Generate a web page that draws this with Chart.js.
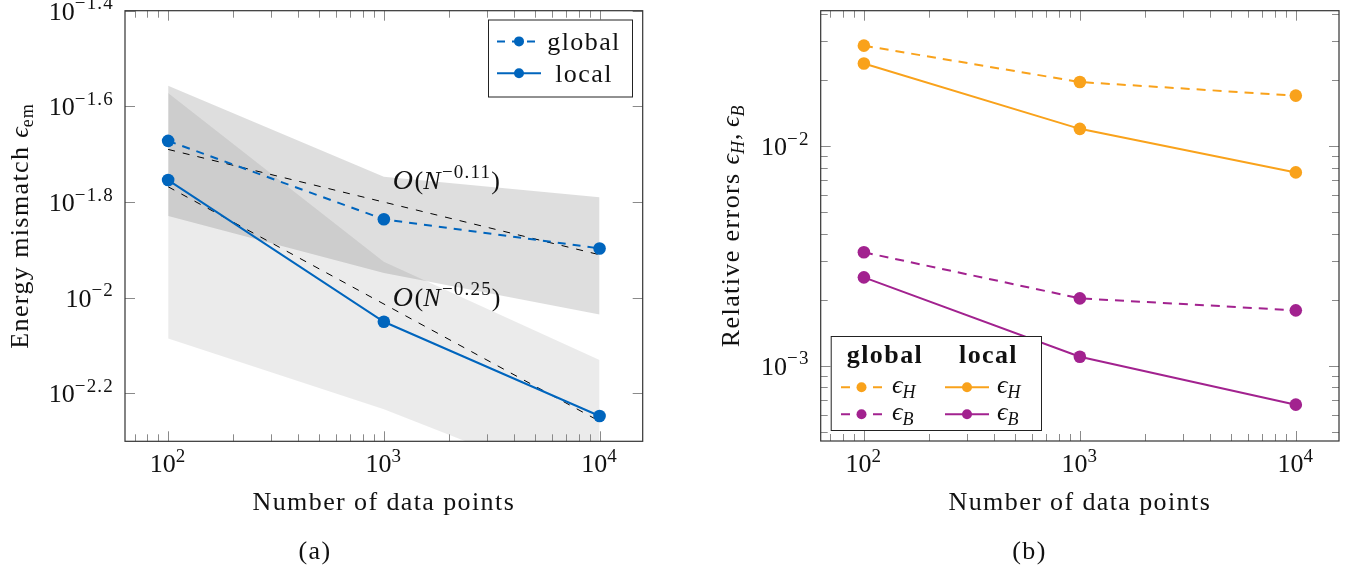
<!DOCTYPE html>
<html>
<head>
<meta charset="utf-8">
<script src="https://cdn.jsdelivr.net/npm/chart.js@4.4.1/dist/chart.umd.min.js"></script>
<style>
  html, body { margin: 0; padding: 0; background: #fff; }
  #wrap { position: relative; width: 1359px; height: 574px; }
  #wrap canvas { position: absolute; left: 0; top: 0; }
</style>
</head>
<body>
<div id="wrap">
  <canvas id="chartA" width="1359" height="574"></canvas>
  <canvas id="chartB" width="1359" height="574"></canvas>
</div>
<script>
// number of data points (x) for every series
const nPoints = [100, 1000, 10000];

// (a) energy mismatch
const emGlobal = [0.02128, 0.01459, 0.01268];
const emLocal = [0.01762, 0.00891, 0.00566];
const bandGlobalHi = [0.02773, 0.01791, 0.01622];
const bandGlobalLo = [0.01483, 0.01127, 0.00923];
const bandLocalHi = [0.02679, 0.01189, 0.00741];
const bandLocalLo = [0.00822, 0.00585, 0.00389];
const fitN = [100, 10000];
const fitSlow = [0.02042, 0.0123];   // O(N^-0.11)
const fitFast = [0.01706, 0.00552];  // O(N^-0.25)

// (b) relative errors
const errHGlobal = [0.0287, 0.0196, 0.0170];
const errHLocal = [0.0238, 0.0120, 0.0076];
const errBGlobal = [0.00329, 0.00203, 0.00179];
const errBLocal = [0.00253, 0.00110, 0.000666];

// ticks
const xTicks = [100, 1000, 10000];
const xTickExp = ['2', '3', '4'];
const emTickPow = [-2.2, -2.0, -1.8, -1.6, -1.4];
const errTickPow = [-3, -2];
const mantissas = [2, 3, 4, 5, 6, 7, 8, 9];

const xMin = Math.pow(10, 1.8), xMax = Math.pow(10, 4.2);
const xMinor = [10, 100, 1000, 10000].flatMap(d => mantissas.map(m => m * d)).filter(v => v > xMin && v < xMax);
const errMin = Math.pow(10, -3.342), errMax = Math.pow(10, -1.383);
const errMinor = [1e-4, 1e-3, 1e-2].flatMap(d => mantissas.map(m => m * d)).filter(v => v > errMin && v < errMax);

const blue = '#0065BD', orange = '#F9A21B', purple = '#A2228F';
const FONT = "'Liberation Serif', 'DejaVu Serif', serif";

const xy = (xs, ys) => xs.map((x, i) => ({ x: x, y: ys[i] }));
const expText = p => String(p).replace('-', '\u2212');

function setFont(ctx, r) {
    ctx.font = (r[2] ? r[2] + ' ' : '') + r[1] + 'px ' + FONT;
    // Times is narrower than Computer Modern: open up words and exponents a little
    let sp = 0;
    if (/[A-Za-z]/.test(r[0])) sp = r[1] * 0.055;
    else if (r[1] < 22) sp = 1.2;
    ctx.letterSpacing = sp.toFixed(1) + 'px';
}

// draws a list of [text, size, style, dy] pieces on one baseline
function drawRuns(ctx, runs, x, y, align) {
    let w = 0;
    const widths = runs.map(r => {
        setFont(ctx, r);
        const m = ctx.measureText(r[0]).width;
        w += m;
        return m;
    });
    let cx = align === 'center' ? x - w / 2 : (align === 'right' ? x - w : x);
    ctx.textAlign = 'left';
    ctx.textBaseline = 'alphabetic';
    runs.forEach((r, i) => {
        setFont(ctx, r);
        ctx.fillText(r[0], cx, y + (r[3] || 0));
        cx += widths[i];
    });
    ctx.letterSpacing = '0px';
}

const pow10 = e => [['10', 26], [e, 19, '', -10.5]];

function line(ctx, x0, y0, x1, y1) {
    ctx.beginPath();
    ctx.moveTo(x0, y0);
    ctx.lineTo(x1, y1);
    ctx.stroke();
}

// box, inward ticks, tick labels, titles, notes and legend (pgfplots look)
const axesFrame = {
    id: 'axesFrame',
    afterDatasetsDraw(chart, args, o) {
        const ctx = chart.ctx, a = chart.chartArea;
        const xs = chart.scales.x, ys = chart.scales.y;
        ctx.save();

        ctx.strokeStyle = '#8a8a8a';
        ctx.lineWidth = 1;
        const vTick = (v, len) => {
            const px = Math.round(xs.getPixelForValue(v)) + 0.5;
            line(ctx, px, a.bottom, px, a.bottom - len);
            line(ctx, px, a.top, px, a.top + len);
        };
        const hTick = (v, len) => {
            const py = Math.round(ys.getPixelForValue(v)) + 0.5;
            line(ctx, a.left, py, a.left + len, py);
            line(ctx, a.right, py, a.right - len, py);
        };
        o.xMinor.forEach(v => vTick(v, 7));
        o.xMajor.forEach(v => vTick(v, 10));
        o.yMinor.forEach(v => hTick(v, 7));
        o.yMajor.forEach(v => hTick(v, 10));

        ctx.strokeStyle = '#333';
        ctx.lineWidth = 1.2;
        ctx.strokeRect(a.left, a.top, a.right - a.left, a.bottom - a.top);

        ctx.fillStyle = '#111';
        o.xMajor.forEach((v, i) => drawRuns(ctx, pow10(o.xExp[i]), xs.getPixelForValue(v), a.bottom + 31, 'center'));
        o.yMajor.forEach((v, i) => drawRuns(ctx, pow10(o.yExp[i]), a.left - 11, ys.getPixelForValue(v) + 9, 'right'));

        drawRuns(ctx, [['Number of data points', 26]], (a.left + a.right) / 2, a.bottom + 69, 'center');
        ctx.save();
        ctx.translate(o.yTitleX, (a.top + a.bottom) / 2);
        ctx.rotate(-Math.PI / 2);
        drawRuns(ctx, o.yTitle, 0, 0, 'center');
        ctx.restore();
        drawRuns(ctx, [[o.caption, 26]], o.captionX, 559, 'center');

        (o.notes || []).forEach(n => {
            drawRuns(ctx, n.runs, xs.getPixelForValue(n.x), ys.getPixelForValue(n.y) + 9, 'left');
        });

        const lg = o.legend;
        ctx.fillStyle = '#fff';
        ctx.fillRect(lg.box[0], lg.box[1], lg.box[2], lg.box[3]);
        ctx.strokeStyle = '#222';
        ctx.lineWidth = 1;
        ctx.strokeRect(lg.box[0] + 0.5, lg.box[1] + 0.5, lg.box[2], lg.box[3]);
        ctx.fillStyle = '#111';
        (lg.headers || []).forEach(h => drawRuns(ctx, [[h.t, 26, 'bold']], h.x, h.y, 'center'));
        lg.rows.forEach(r => {
            const ds = chart.data.datasets.find(d => d.label === r.label);
            ctx.save();
            ctx.strokeStyle = ds.borderColor;
            ctx.lineWidth = ds.borderWidth;
            ctx.setLineDash(ds.borderDash || []);
            line(ctx, r.x0, r.y, r.x1, r.y);
            ctx.setLineDash([]);
            ctx.fillStyle = ds.borderColor;
            ctx.beginPath();
            ctx.arc((r.x0 + r.x1) / 2, r.y, 5, 0, Math.PI * 2);
            ctx.fill();
            ctx.restore();
            drawRuns(ctx, r.runs, r.tx, r.ty, r.align);
        });
        ctx.restore();
    }
};

const band = (ys, fill, color) => ({
    data: xy(nPoints, ys), fill: fill, backgroundColor: color,
    borderWidth: 0, pointRadius: 0, order: 5
});
const fit = ys => ({
    data: xy(fitN, ys), borderColor: '#000', borderWidth: 1,
    borderDash: [7, 8], pointRadius: 0, order: 3
});
const series = (label, ys, color, dash) => ({
    label: label, data: xy(nPoints, ys), borderColor: color, backgroundColor: color,
    pointBackgroundColor: color, borderWidth: 2, borderDash: dash,
    pointRadius: 6.3, pointBorderWidth: 0, order: 1
});

const baseOptions = (padding, yMin, yMax, frame) => ({
    responsive: false,
    animation: false,
    events: [],
    layout: { padding: padding },
    scales: {
        x: { type: 'logarithmic', min: xMin, max: xMax, display: false },
        y: { type: 'logarithmic', min: yMin, max: yMax, display: false }
    },
    plugins: { legend: { display: false }, tooltip: { enabled: false }, axesFrame: frame }
});

const bigO = e => [['O', 28, 'italic'], ['(', 26], ['N', 26, 'italic'], [e, 19, '', -11], [')', 26]];

// (a)
new Chart(document.getElementById('chartA'), {
    type: 'line',
    data: {
        datasets: [
            band(bandGlobalHi, '+1', 'rgba(0,0,0,0.13)'),
            band(bandGlobalLo, false, 'transparent'),
            band(bandLocalHi, '+1', 'rgba(0,0,0,0.08)'),
            band(bandLocalLo, false, 'transparent'),
            fit(fitSlow),
            fit(fitFast),
            series('global', emGlobal, blue, [8, 7]),
            series('local', emLocal, blue, [])
        ]
    },
    options: baseOptions({ left: 125, right: 716.3, top: 10.7, bottom: 132.7 },
        Math.pow(10, -2.3), Math.pow(10, -1.4), {
            xMajor: xTicks, xExp: xTickExp, xMinor: xMinor,
            yMajor: emTickPow.map(p => Math.pow(10, p)), yExp: emTickPow.map(expText), yMinor: [],
            yTitle: [['Energy mismatch ', 26], ['\u03F5', 26, 'italic'], ['em', 18, '', 5]],
            yTitleX: 28,
            caption: '(a)', captionX: 315,
            notes: [
                { x: 1100, y: 0.0176, runs: bigO('\u22120.11') },
                { x: 1100, y: 0.01005, runs: bigO('\u22120.25') }
            ],
            legend: {
                box: [488, 19.5, 144, 77],
                rows: [
                    { label: 'global', x0: 497, x1: 541, y: 41.4, runs: [['global', 26]], tx: 584, ty: 49.5, align: 'center' },
                    { label: 'local', x0: 497, x1: 541, y: 73.3, runs: [['local', 26]], tx: 584, ty: 81.5, align: 'center' }
                ]
            }
        }),
    plugins: [axesFrame]
});

// (b)
const epsH = [['\u03F5', 26, 'italic'], ['H', 18, 'italic', 5]];
const epsB = [['\u03F5', 26, 'italic'], ['B', 18, 'italic', 5]];
new Chart(document.getElementById('chartB'), {
    type: 'line',
    data: {
        datasets: [
            series('global H', errHGlobal, orange, [9, 7]),
            series('local H', errHLocal, orange, []),
            series('global B', errBGlobal, purple, [9, 7]),
            series('local B', errBLocal, purple, [])
        ]
    },
    options: baseOptions({ left: 820.7, right: 20, top: 10.7, bottom: 133 },
        errMin, errMax, {
            xMajor: xTicks, xExp: xTickExp, xMinor: xMinor,
            yMajor: errTickPow.map(p => Math.pow(10, p)), yExp: errTickPow.map(expText), yMinor: errMinor,
            yTitle: [['Relative errors ', 26]].concat(epsH, [[', ', 26]], epsB),
            yTitleX: 739,
            caption: '(b)', captionX: 1029.5,
            legend: {
                box: [830.7, 336, 210.3, 94],
                headers: [{ t: 'global', x: 885, y: 363 }, { t: 'local', x: 988.5, y: 363 }],
                rows: [
                    { label: 'global H', x0: 841, x1: 882, y: 387.3, runs: epsH, tx: 892, ty: 392.5, align: 'left' },
                    { label: 'local H', x0: 945, x1: 989, y: 387.3, runs: epsH, tx: 997, ty: 392.5, align: 'left' },
                    { label: 'global B', x0: 841, x1: 882, y: 414.3, runs: epsB, tx: 892, ty: 419.5, align: 'left' },
                    { label: 'local B', x0: 945, x1: 989, y: 414.3, runs: epsB, tx: 997, ty: 419.5, align: 'left' }
                ]
            }
        }),
    plugins: [axesFrame]
});
</script>
</body>
</html>
